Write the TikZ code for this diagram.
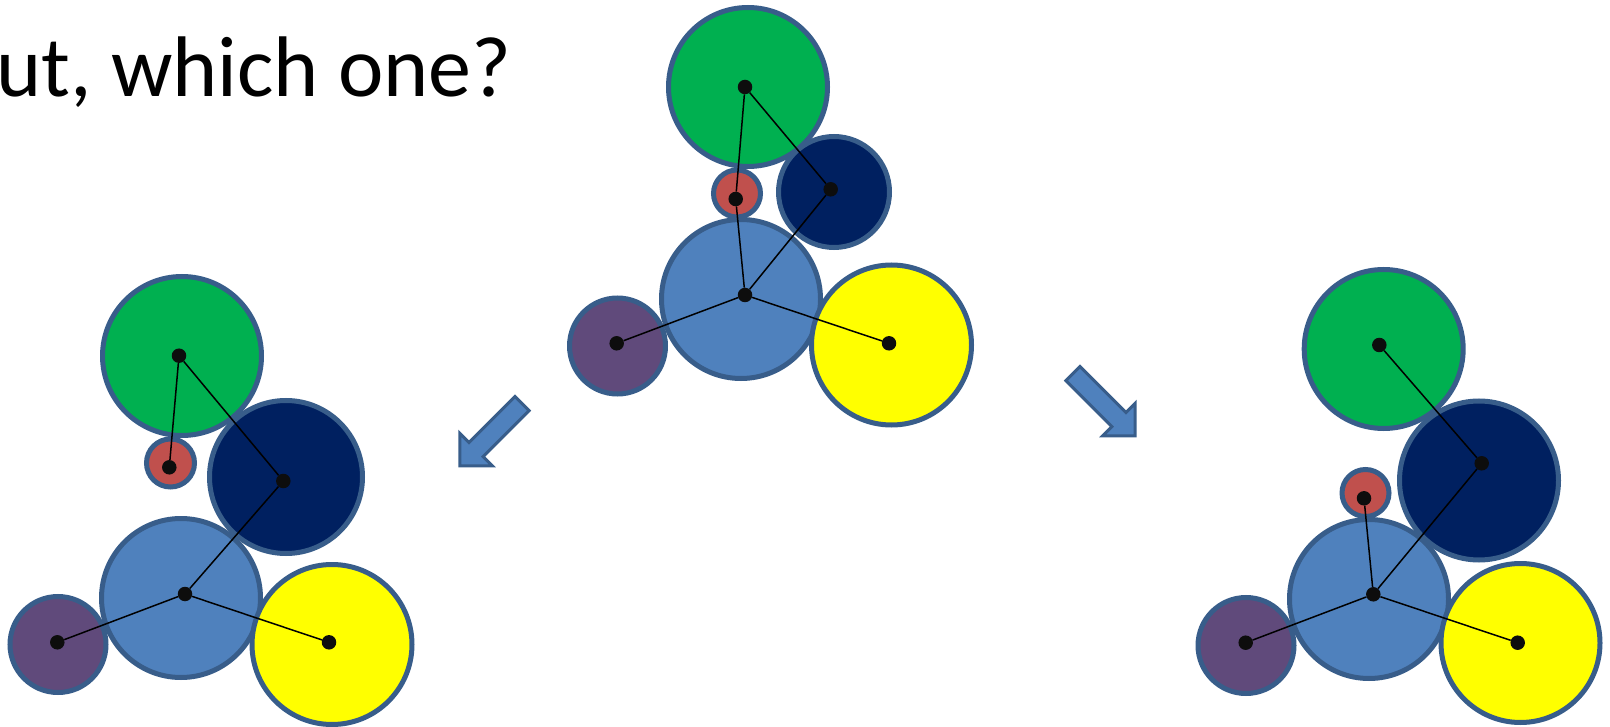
\documentclass[tikz,border=0pt]{standalone}
\usepackage{fontspec}
\setmainfont{Carlito}
\usetikzlibrary{positioning}
\definecolor{ballrim}{HTML}{385D8A}
\definecolor{ballgreen}{HTML}{00B050}
\definecolor{ballred}{HTML}{C0504D}
\definecolor{ballnavy}{HTML}{002060}
\definecolor{ballblue}{HTML}{4F81BD}
\definecolor{ballpurple}{HTML}{604A7B}
\definecolor{ballyellow}{HTML}{FFFF00}
\tikzset{
  ball/.style={circle,draw=ballrim,line width=5pt,inner sep=0pt,minimum size=#1},
  joint/.style={circle,fill=black!95,inner sep=0pt,minimum size=14.5pt},
  link/.style={black,line width=1.5pt},
  move arrow/.style={draw=ballrim,fill=ballblue,line width=3pt,line join=miter},
}

\begin{document}
\begin{tikzpicture}[x=1pt,y=-1pt]
  \useasboundingbox (0,0) rectangle (1610,727);
  \node[anchor=base west,inner sep=0pt,font=\fontsize{86}{100}\selectfont] (title) at (-4,97) {ut, which one?};

  % top: starting layout
  \node[ball=96,fill=ballpurple] (tP) at (617.5,346) {};
  \node[ball=159,fill=ballgreen] (tG) at (748,87) {};
  \node[ball=47,fill=ballred] (tR) at (737,193.5) {};
  \node[ball=159,fill=ballblue] (tB) at (741,299) {};
  \node[ball=111,fill=ballnavy] (tN) at (834,192) {};
  \node[ball=160,fill=ballyellow] (tY) at (891.5,345) {};
  \node[joint] (tGd) at (745,87) {};
  \node[joint] (tRd) at (735.7,199) {};
  \node[joint] (tNd) at (830.7,189.3) {};
  \node[joint] (tBd) at (745,295) {};
  \node[joint] (tPd) at (616.7,343.3) {};
  \node[joint] (tYd) at (889,343.3) {};
  \draw[link] (tGd) -- (tRd);
  \draw[link] (tGd) -- (tNd);
  \draw[link] (tRd) -- (tBd);
  \draw[link] (tNd) -- (tBd);
  \draw[link] (tBd) -- (tPd);
  \draw[link] (tBd) -- (tYd);

  % left: red ball hangs from green
  \node[ball=96,fill=ballpurple] (lP) at (58,644.5) {};
  \node[ball=159,fill=ballgreen] (lG) at (182,356) {};
  \node[ball=48,fill=ballred] (lR) at (170.5,463) {};
  \node[ball=159,fill=ballblue] (lB) at (181,598) {};
  \node[ball=153,fill=ballnavy] (lN) at (286,477) {};
  \node[ball=160,fill=ballyellow] (lY) at (332,644.5) {};
  \node[joint] (lGd) at (179,355.7) {};
  \node[joint] (lRd) at (169.3,467.3) {};
  \node[joint] (lNd) at (283.3,481) {};
  \node[joint] (lBd) at (185,594) {};
  \node[joint] (lPd) at (57.3,642.3) {};
  \node[joint] (lYd) at (329,642.3) {};
  \draw[link] (lGd) -- (lRd);
  \draw[link] (lGd) -- (lNd);
  \draw[link] (lNd) -- (lBd);
  \draw[link] (lBd) -- (lPd);
  \draw[link] (lBd) -- (lYd);

  % right: red ball hangs from blue
  \node[ball=96,fill=ballpurple] (rP) at (1246,645.5) {};
  \node[ball=159,fill=ballgreen] (rG) at (1383.7,349) {};
  \node[ball=47,fill=ballred] (rR) at (1365.5,493) {};
  \node[ball=159,fill=ballblue] (rB) at (1369,599) {};
  \node[ball=159,fill=ballnavy] (rN) at (1479,480.5) {};
  \node[ball=159,fill=ballyellow] (rY) at (1520.5,643) {};
  \node[joint] (rGd) at (1379.3,345) {};
  \node[joint] (rRd) at (1364,498.3) {};
  \node[joint] (rNd) at (1481.7,463.3) {};
  \node[joint] (rBd) at (1373.3,594.3) {};
  \node[joint] (rPd) at (1245.7,642.7) {};
  \node[joint] (rYd) at (1517.7,642.7) {};
  \draw[link] (rGd) -- (rNd);
  \draw[link] (rNd) -- (rBd);
  \draw[link] (rRd) -- (rBd);
  \draw[link] (rBd) -- (rPd);
  \draw[link] (rBd) -- (rYd);

  % block arrows
  \draw[move arrow,shift={(459.8,465.8)},rotate=225]
    (0,0) -- (-23,23) -- (-23,10) -- (-88,10) -- (-88,-10) -- (-23,-10) -- (-23,-23) -- cycle;
  \draw[move arrow,shift={(1135.2,435.8)},rotate=-45]
    (0,0) -- (-23,23) -- (-23,10) -- (-88,10) -- (-88,-10) -- (-23,-10) -- (-23,-23) -- cycle;
\end{tikzpicture}
\end{document}
